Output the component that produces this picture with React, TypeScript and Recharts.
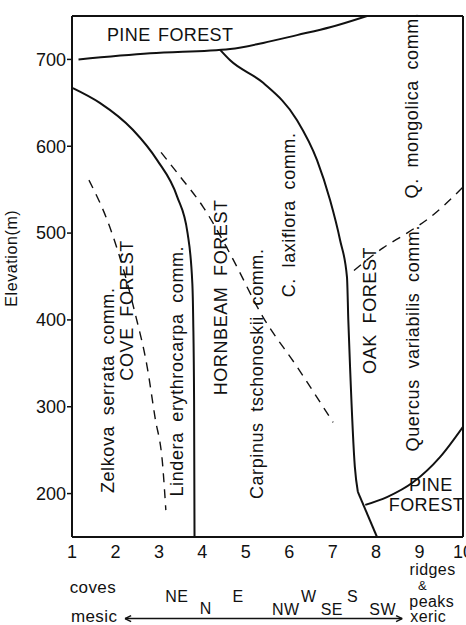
import { LineChart, Line, XAxis, YAxis, ReferenceLine, ReferenceDot } from 'recharts'

const X_TICKS = [1, 2, 3, 4, 5, 6, 7, 8, 9, 10]
const Y_TICKS = [200, 300, 400, 500, 600, 700]

// boundaries (x = position on the mesic-xeric gradient, y = elevation in m)
const PINE_UPPER = [
  { x: 1.15, y: 700 }, { x: 2.8, y: 707 }, { x: 4.64, y: 712 }, { x: 5.4, y: 719 },
  { x: 6.18, y: 728 }, { x: 6.94, y: 737 }, { x: 7.79, y: 750 },
]
const LINDERA_LINE = [
  { x: 1.02, y: 667 }, { x: 1.64, y: 650 }, { x: 2.4, y: 619 }, { x: 2.96, y: 584 },
  { x: 3.42, y: 542 }, { x: 3.66, y: 500 }, { x: 3.77, y: 442 }, { x: 3.79, y: 400 },
  { x: 3.81, y: 308 }, { x: 3.82, y: 150 },
]
const LAXIFLORA_LINE = [
  { x: 4.41, y: 711 }, { x: 4.64, y: 699 }, { x: 5.4, y: 673 }, { x: 6.18, y: 630 },
  { x: 6.64, y: 584 }, { x: 6.94, y: 538 }, { x: 7.17, y: 492 }, { x: 7.33, y: 449 },
  { x: 7.36, y: 400 }, { x: 7.4, y: 346 }, { x: 7.51, y: 231 }, { x: 7.58, y: 202 },
]
const OAK_FOOT = [{ x: 7.58, y: 202 }, { x: 8.02, y: 150 }]
const PINE_LOWER = [
  { x: 7.75, y: 187 }, { x: 8.25, y: 196 }, { x: 8.85, y: 213 }, { x: 9.47, y: 242 }, { x: 10, y: 277 },
]
const ZELKOVA_DASH = [
  { x: 1.39, y: 561 }, { x: 1.87, y: 507 }, { x: 2.45, y: 408 }, { x: 2.73, y: 346 },
  { x: 2.91, y: 288 }, { x: 3.09, y: 231 }, { x: 3.16, y: 181 },
]
const CARPINUS_DASH = [
  { x: 3.05, y: 593 }, { x: 3.49, y: 565 }, { x: 4.02, y: 530 }, { x: 4.63, y: 477 },
  { x: 5.4, y: 403 }, { x: 6.18, y: 346 }, { x: 7.01, y: 282 },
]
const QUERCUS_DASH = [
  { x: 7.49, y: 457 }, { x: 8.16, y: 483 }, { x: 8.71, y: 500 }, { x: 9.24, y: 518 }, { x: 10, y: 553 },
]

const SOLID = [PINE_UPPER, LINDERA_LINE, LAXIFLORA_LINE, OAK_FOOT, PINE_LOWER]
const DASHED = [ZELKOVA_DASH, CARPINUS_DASH, QUERCUS_DASH]

// community / forest names inside the plot
const PLOT_LABELS = [
  { text: 'PINE FOREST', x: 3.26, y: 728, angle: 0 },
  { text: 'Zelkova serrata comm.', x: 1.83, y: 319, angle: -90 },
  { text: 'COVE FOREST', x: 2.27, y: 411, angle: -90 },
  { text: 'Lindera erythrocarpa comm.', x: 3.42, y: 341, angle: -90 },
  { text: 'HORNBEAM FOREST', x: 4.43, y: 426, angle: -90 },
  { text: 'Carpinus tschonoskii comm.', x: 5.25, y: 338, angle: -90 },
  { text: 'C. laxiflora comm.', x: 6.0, y: 521, angle: -90 },
  { text: 'OAK FOREST', x: 7.85, y: 411, angle: -90 },
  { text: 'Q. mongolica comm.', x: 8.82, y: 647, angle: -90 },
  { text: 'Quercus variabilis comm.', x: 8.85, y: 379, angle: -90 },
  { text: 'PINE', x: 9.26, y: 210, angle: 0 },
  { text: 'FOREST', x: 9.16, y: 187, angle: 0 },
]

// gradient notes under the x axis
const AXIS_NOTES = [
  { text: 'Elevation(m)', x: -0.4, y: 471, angle: -90, size: 16 },
  { text: 'coves', x: 1.48, y: 92, size: 17 },
  { text: 'mesic', x: 1.51, y: 59, size: 17 },
  { text: 'NE', x: 3.41, y: 81, size: 16 },
  { text: 'N', x: 4.08, y: 68, size: 16 },
  { text: 'E', x: 4.82, y: 81, size: 16 },
  { text: 'NW', x: 5.92, y: 66, size: 16 },
  { text: 'W', x: 6.45, y: 82, size: 16 },
  { text: 'SE', x: 6.98, y: 66, size: 16 },
  { text: 'S', x: 7.46, y: 82, size: 16 },
  { text: 'SW', x: 8.15, y: 66, size: 16 },
  { text: 'ridges', x: 9.3, y: 113, size: 16 },
  { text: '&', x: 9.07, y: 94, size: 13 },
  { text: 'peaks', x: 9.28, y: 76, size: 16 },
  { text: 'xeric', x: 9.2, y: 59, size: 16 },
]

const ARROW_X = [2.22, 8.6]
const ARROW_Y = 56

const INK = '#111'

const note = (n: any, i: number, key: string) => (
  <ReferenceDot
    key={key + i}
    x={n.x}
    y={n.y}
    r={0}
    fill="none"
    stroke="none"
    ifOverflow="visible"
    label={{
      content: (p: any) => {
        const vb = p.viewBox || {}
        const cx = vb.x + (vb.width || 0) / 2
        const cy = vb.y + (vb.height || 0) / 2
        return (
          <text
            x={cx}
            y={cy}
            transform={n.angle ? `rotate(${n.angle} ${cx} ${cy})` : undefined}
            textAnchor="middle"
            dominantBaseline="central"
            fontSize={n.size ?? 18}
            letterSpacing={n.angle ? 0.6 : 0.4}
            wordSpacing={n.angle ? 5 : 2}
            fill={INK}
          >
            {n.text}
          </text>
        )
      },
    }}
  />
)

export default function App() {
  const [x0, x1] = ARROW_X
  return (
    <div style={{ position: 'absolute', left: 0, top: 0, width: 466, height: 625, background: '#fff', fontFamily: '"Liberation Sans", Arial, sans-serif' }}>
      <LineChart width={466} height={625} margin={{ top: 16, right: 3, bottom: 0, left: 0 }}>
        <XAxis
          type="number"
          dataKey="x"
          domain={[1, 10]}
          ticks={X_TICKS}
          interval={0}
          allowDataOverflow
          height={88}
          tickSize={0}
          tickMargin={8}
          axisLine={{ stroke: INK, strokeWidth: 2 }}
          tick={{ fill: INK, fontSize: 18 }}
        />
        <YAxis
          type="number"
          dataKey="y"
          domain={[150, 750]}
          ticks={Y_TICKS}
          interval={0}
          allowDataOverflow
          width={72}
          tickSize={5}
          tickMargin={1}
          axisLine={{ stroke: INK, strokeWidth: 2 }}
          tickLine={{ stroke: INK, strokeWidth: 1.5 }}
          tick={{ fill: INK, fontSize: 18 }}
        />
        <ReferenceLine y={750} stroke={INK} strokeWidth={2} />
        <ReferenceLine x={10} stroke={INK} strokeWidth={2} />

        {SOLID.map((d, i) => (
          <Line key={'s' + i} data={d} dataKey="y" type="monotone" stroke={INK} strokeWidth={2} dot={false} activeDot={false} isAnimationActive={false} />
        ))}
        {DASHED.map((d, i) => (
          <Line key={'d' + i} data={d} dataKey="y" type="monotone" stroke={INK} strokeWidth={1.4} strokeDasharray="9 7" dot={false} activeDot={false} isAnimationActive={false} />
        ))}

        {PLOT_LABELS.map((n, i) => note(n, i, 'p'))}
        {AXIS_NOTES.map((n, i) => note(n, i, 'a'))}

        <ReferenceLine ifOverflow="visible" segment={[{ x: x0, y: ARROW_Y }, { x: x1, y: ARROW_Y }]} stroke={INK} strokeWidth={1.5} />
        <ReferenceLine ifOverflow="visible" segment={[{ x: x0, y: ARROW_Y }, { x: x0 + 0.14, y: ARROW_Y + 3.5 }]} stroke={INK} strokeWidth={1.5} />
        <ReferenceLine ifOverflow="visible" segment={[{ x: x0, y: ARROW_Y }, { x: x0 + 0.14, y: ARROW_Y - 3.5 }]} stroke={INK} strokeWidth={1.5} />
        <ReferenceLine ifOverflow="visible" segment={[{ x: x1, y: ARROW_Y }, { x: x1 - 0.14, y: ARROW_Y + 3.5 }]} stroke={INK} strokeWidth={1.5} />
        <ReferenceLine ifOverflow="visible" segment={[{ x: x1, y: ARROW_Y }, { x: x1 - 0.14, y: ARROW_Y - 3.5 }]} stroke={INK} strokeWidth={1.5} />
      </LineChart>
    </div>
  )
}
